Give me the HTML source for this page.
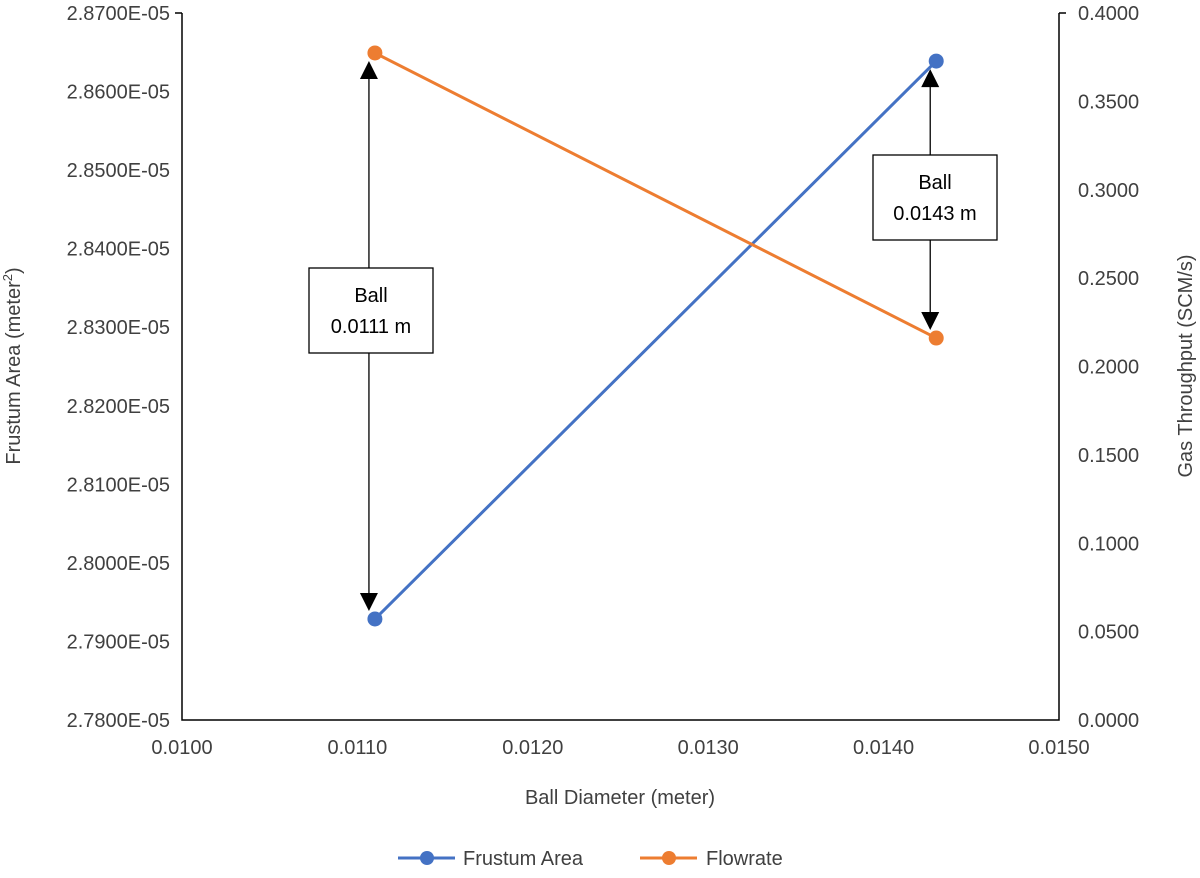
<!DOCTYPE html>
<html><head><meta charset="utf-8"><style>
body{margin:0;background:#fff;font-family:"Liberation Sans",Arial,sans-serif}
svg text{font-family:"Liberation Sans",Arial,sans-serif;fill:#404040}
</style></head><body>
<svg id="chart" width="1200" height="873" viewBox="0 0 1200 873" xmlns="http://www.w3.org/2000/svg">
<defs><marker id="ah" markerWidth="10" markerHeight="10" refX="9" refY="5" orient="auto" markerUnits="userSpaceOnUse"><path d="M0,0 L0,10 L0,10 L10,5 Z" transform="scale(2.2) translate(-5.5,-2.8)" fill="#000"/></marker></defs>
<g id="axes"></g><g id="marks"></g><g id="notes"></g>
<text x="620" y="804" font-size="20" text-anchor="middle">Ball Diameter (meter)</text>
<text transform="translate(20,366) rotate(-90)" font-size="20" text-anchor="middle">Frustum Area (meter<tspan font-size="13" dy="-8">2</tspan><tspan dy="8">)</tspan></text>
<text transform="translate(1192,366) rotate(-90)" font-size="20" text-anchor="middle">Gas Throughput (SCM/s)</text>
<g>
<line x1="398" y1="858" x2="455" y2="858" stroke="#4472C4" stroke-width="3"/><circle cx="427" cy="858" r="7" fill="#4472C4"/>
<text x="463" y="865" font-size="20">Frustum Area</text>
<line x1="640" y1="858" x2="697" y2="858" stroke="#ED7D31" stroke-width="3"/><circle cx="669" cy="858" r="7" fill="#ED7D31"/>
<text x="706" y="865" font-size="20">Flowrate</text>
</g>
</svg>
<script>
const xValues=[0.0111,0.0143];
const frustumArea=[2.79286e-5,2.86388e-5];
const flowrate=[0.3774,0.2161];
const xTicks=["0.0100","0.0110","0.0120","0.0130","0.0140","0.0150"];
const yLeftTicks=["2.7800E-05","2.7900E-05","2.8000E-05","2.8100E-05","2.8200E-05","2.8300E-05","2.8400E-05","2.8500E-05","2.8600E-05","2.8700E-05"];
const yRightTicks=["0.0000","0.0500","0.1000","0.1500","0.2000","0.2500","0.3000","0.3500","0.4000"];
const L=182,R=1059,T=13,B=720,NS="http://www.w3.org/2000/svg";
const xs=v=>L+(v-0.010)/(0.005)*(R-L);
const yl=v=>B-(v-2.78e-5)/(0.09e-5)*(B-T);
const yr=v=>B-v/0.4*(B-T);
function mk(tag,attrs,parent,txt){const e=document.createElementNS(NS,tag);for(const k in attrs)e.setAttribute(k,attrs[k]);if(txt!=null)e.textContent=txt;parent.appendChild(e);return e;}
const ax=document.getElementById('axes'),mg=document.getElementById('marks'),ng=document.getElementById('notes');
let e;
e=mk('path',{d:`M${L},${T}V${B}H${R}V${T}`,fill:'none',stroke:'#000','stroke-width':1.5},ax);


e=mk('line',{x1:L-7,y1:T,x2:L,y2:T,stroke:'#000','stroke-width':1.5},ax);


e=mk('line',{x1:R,y1:T,x2:R+7,y2:T,stroke:'#000','stroke-width':1.5},ax);


xTicks.forEach((t)=>{e=mk('text',{x:xs(parseFloat(t)),y:754,'font-size':20,'text-anchor':'middle'},ax,t);

});
yLeftTicks.forEach(t=>{e=mk('text',{x:170,y:yl(parseFloat(t))+7,'font-size':20,'text-anchor':'end'},ax,t);

});
yRightTicks.forEach(t=>{e=mk('text',{x:1078,y:yr(parseFloat(t))+7,'font-size':20},ax,t);

});
function series(vals,ys,col,name){
 const pts=xValues.map((x,i)=>xs(x)+','+ys(vals[i])).join(' ');
 e=mk('polyline',{points:pts,fill:'none',stroke:col,'stroke-width':3},mg);
 
 
 xValues.forEach((x,i)=>{e=mk('circle',{cx:xs(x),cy:ys(vals[i]),r:7.5,fill:col},mg);
 
 });
}
series(frustumArea,yl,'#4472C4','frustum-area');
series(flowrate,yr,'#ED7D31','flowrate');
function note(i,bx,by,label){
 const ax_=xs(xValues[i])-6;
 const topY=Math.min(yl(frustumArea[i]),yr(flowrate[i]))+8, botY=Math.max(yl(frustumArea[i]),yr(flowrate[i]))-8;
 const g=mk('g',{},ng);
 
 
 mk('line',{x1:ax_,y1:by,x2:ax_,y2:topY+14,stroke:'#000','stroke-width':1.3},g);
 mk('path',{d:`M${ax_-9},${topY+18}L${ax_+9},${topY+18}L${ax_},${topY}Z`,fill:'#000'},g);
 mk('line',{x1:ax_,y1:by+85,x2:ax_,y2:botY-14,stroke:'#000','stroke-width':1.3},g);
 mk('path',{d:`M${ax_-9},${botY-18}L${ax_+9},${botY-18}L${ax_},${botY}Z`,fill:'#000'},g);
 mk('rect',{x:bx,y:by,width:124,height:85,fill:'#fff',stroke:'#000','stroke-width':1.3},g);
 mk('text',{x:bx+62,y:by+34,'font-size':20,'text-anchor':'middle',style:'fill:#000'},g,'Ball');
 mk('text',{x:bx+62,y:by+65,'font-size':20,'text-anchor':'middle',style:'fill:#000'},g,label+' m');
}
note(0,309,268,'0.0111');
note(1,873,155,'0.0143');
</script>
</body></html>
